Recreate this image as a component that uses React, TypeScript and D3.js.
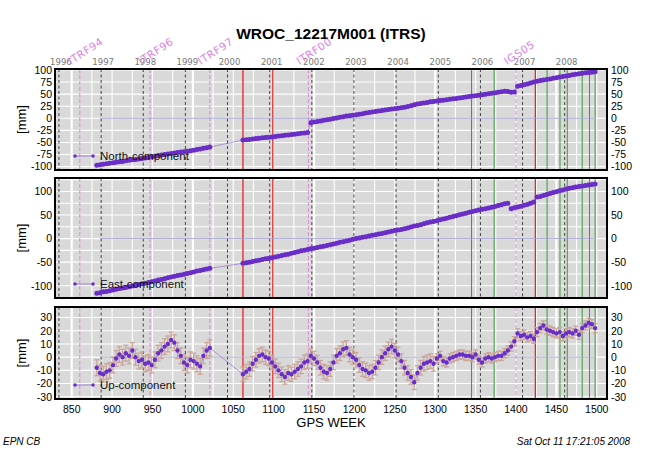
import React from "react";
import * as d3 from "d3";

// ---------- data ----------
const weeks = [
  881, 885, 889, 893, 897, 901, 905, 909, 913, 917,
  921, 925, 929, 933, 937, 941, 945, 949, 953, 957,
  961, 965, 969, 973, 977, 981, 985, 989, 993, 997,
  1001, 1005, 1009, 1013, 1017, 1021,
  1062, 1066, 1070, 1074, 1078, 1082, 1086, 1090, 1094, 1098,
  1102, 1106, 1110, 1114, 1118, 1122, 1126, 1130, 1134, 1138,
  1142, 1146, 1150, 1154, 1158, 1162, 1166, 1170, 1174, 1178,
  1182, 1186, 1190, 1194, 1198, 1202, 1206, 1210, 1214, 1218,
  1222, 1226, 1230, 1234, 1238, 1242, 1246, 1250, 1254, 1258,
  1262, 1266, 1270, 1274, 1278, 1282, 1286, 1290, 1294, 1298,
  1302, 1306, 1310, 1314, 1318, 1322, 1326, 1330, 1334, 1338,
  1342, 1346, 1350, 1354, 1358, 1362, 1366, 1370, 1374, 1378,
  1382, 1386, 1390, 1394, 1398, 1402, 1406, 1410, 1414, 1418,
  1422, 1426, 1430, 1434, 1438, 1442, 1446, 1450, 1454, 1458,
  1462, 1466, 1470, 1474, 1478, 1482, 1486, 1490, 1494, 1498,
];

const north = [
  -97, -96, -95, -94, -93, -92, -91, -90, -89.5, -88,
  -87, -86, -85.5, -84, -83, -82, -81, -79.5, -78.5, -77,
  -76, -75, -74, -73, -72, -71, -70, -69, -68, -67,
  -66, -64.5, -63.5, -62, -61, -59.5,
  -45, -44.5, -44, -43, -42, -41.5, -40.5, -40, -39, -38.5,
  -37.5, -36.5, -36, -35, -34.5, -33.5, -33, -32, -31, -30.5,
  -29.5, -9, -7.5, -6.5, -5.5, -4, -3, -2, -0.5, 0.5,
  2, 3, 4.5, 5.5, 6.5, 7.5, 8.5, 9.5, 11, 12,
  13, 14, 15, 16, 17, 18, 19, 20, 21, 22,
  23, 24.5, 26, 28, 29.5, 30.5, 31.5, 32.5, 34, 35,
  36, 37, 37.5, 38.5, 39.5, 40.5, 41, 42, 43, 44,
  45, 46, 46.5, 47.5, 48.5, 49.5, 51, 52, 53, 54,
  55, 56, 55.5, 54, 54.5, 66.5, 68, 69.5, 71, 73,
  75, 76.5, 78, 79, 80.5, 81.5, 83, 84, 85.5, 86.5,
  87.5, 88.5, 90, 91, 92, 93, 94, 95, 95.5, 96.5,
];

const east = [
  -116, -115, -113, -112, -110.5, -109, -107.5, -106, -105, -103.5,
  -102, -100.5, -99, -97.5, -96, -94.5, -93, -91.5, -90, -88,
  -86.5, -85, -83, -81.5, -80, -78.5, -77, -75.5, -74, -72.5,
  -71, -69, -67.5, -66, -64.5, -63,
  -52.5, -51, -50, -48.5, -47, -46, -44.5, -43, -42, -40.5,
  -39, -37.5, -36, -34.5, -33, -31, -29.5, -28, -26, -24.5,
  -23, -21.5, -20.5, -19, -17.5, -16, -14.5, -13, -11.5, -10,
  -8, -6.5, -5, -3.5, -1.5, 0, 1.5, 3, 4, 5.5,
  7, 8, 9.5, 11, 12.5, 14, 15.5, 17, 18, 19.5,
  21, 22.5, 24.5, 26.5, 28, 29.5, 31.5, 33.5, 35, 36.5,
  38, 40, 41.5, 43, 45, 47, 48.5, 50.5, 52, 54,
  56, 57.5, 59, 60.5, 62, 63.5, 65, 66.5, 68, 70,
  72, 74, 75, 63.5, 65.5, 67, 68.5, 70.5, 72.5, 75,
  77.5, 88, 89.5, 91.5, 93.5, 95.5, 97.5, 99.5, 101.5, 103,
  105, 106.5, 108, 109.5, 110.5, 111.5, 112.5, 113.5, 114.5, 116,
];

const up = [
  -8, -12, -13, -11, -10, -6, -1, 2, 0, 3,
  1, 5, 0, -3, -2, -5, -4, -6, -2, 3,
  5, 8, 10, 13, 11, 5, 1, -4, -6, -2,
  -3, -5, -7, 1, 5, 7,
  -13, -11, -9, -5, -2, 1, 2, 0, -1, -4,
  -7, -10, -13, -15, -12, -13, -11, -9, -7, -4,
  -3, 1, -1, -4, -8, -11, -12, -9, -4, 1,
  3, 6, 7, 2, 0, -2, -6, -9, -10, -12,
  -11, -8, -4, 0, 3, 6, 8, 5, 2, -3,
  -8, -12, -15, -19, -12, -8, -5, -4, -3, -5,
  -1, 1, -3, -4, -1, 0, 1, 2, 2, 1,
  1, 0, 2, -2, -4, -1, 0, -1, 0, 1,
  1, 3, 5, 8, 12, 18, 16, 17, 15, 16,
  14, 19, 22, 24, 21, 20, 19, 18, 19, 16,
  18, 19, 18, 20, 17, 22, 24, 26, 25, 22,
];

// error-bar half size of Up by period (start week, mm)
const upErrStart = [0, 1062, 1300, 1400];
const upErrSize = [6, 5.5, 3.5, 3.5];

const xTicks = [850, 900, 950, 1000, 1050, 1100, 1150, 1200, 1250, 1300, 1350, 1400, 1450, 1500];
const yearLabels = ["1996", "1997", "1998", "1999", "2000", "2001", "2002", "2003", "2004", "2005", "2006", "2007", "2008"];
const yearWeeks = [834.14, 886.43, 938.57, 990.71, 1042.86, 1095.14, 1147.29, 1199.43, 1251.57, 1303.86, 1356, 1408.14, 1460.29];
const frameNames = ["ITRF94", "ITRF96", "ITRF97", "ITRF00", "IGS05"];
const frameWeeks = [860, 947, 1021, 1143, 1400];
const redWeeks = [1062, 1099, 1424];
const greenWeeks = [1345, 1373, 1438.5, 1454.5, 1463.5, 1482, 1491, 1498];
const zeroSpan = [885, 1497];

const northTicks = [100, 75, 50, 25, 0, -25, -50, -75, -100];
const eastTicks = [100, 50, 0, -50, -100];
const upTicks = [30, 20, 10, 0, -10, -20, -30];

// ---------- layout ----------
const W = 647;
const H = 459;
const X0 = 55;
const X1 = 607;
const PURPLE = "#6a2ec8";
const FONT = "Liberation Sans, Arial, Helvetica, sans-serif";

const x = d3.scaleLinear().domain([829.3, 1512.7]).range([X0, X1]);

type Panel = {
  name: string;
  values: number[];
  top: number;
  bottom: number;
  domain: [number, number];
  ticks: number[];
  grid: number[];
  errors?: boolean;
};

const panels: Panel[] = [
  { name: "North-component", values: north, top: 69, bottom: 170, domain: [-107, 102], ticks: northTicks, grid: d3.range(-100, 101, 25) },
  { name: "East-component", values: east, top: 178, bottom: 298, domain: [-126, 128.5], ticks: eastTicks, grid: d3.range(-125, 126, 25) },
  { name: "Up-component", values: up, top: 307, bottom: 399, domain: [-31.7, 38], ticks: upTicks, grid: d3.range(-30, 31, 10), errors: true },
];

function errFor(w: number) {
  let e = upErrSize[0];
  upErrStart.forEach((s, i) => {
    if (w >= s) e = upErrSize[i];
  });
  return e;
}

// split the series into runs without data gaps / offsets (for the dense band)
function runs(values: number[]) {
  const out: number[][] = [];
  let cur: number[] = [];
  values.forEach((v, i) => {
    if (i > 0 && (weeks[i] - weeks[i - 1] > 10 || Math.abs(v - values[i - 1]) > 6)) {
      out.push(cur);
      cur = [];
    }
    cur.push(i);
  });
  out.push(cur);
  return out;
}

function PanelView({ p, idx }: { p: Panel; idx: number }) {
  const y = d3.scaleLinear().domain(p.domain).range([p.bottom, p.top]);
  const clipId = `clip${idx}`;
  const line = d3
    .line<number>()
    .x((_, i) => x(weeks[i]))
    .y((v) => y(v));
  const bandLine = d3
    .line<number>()
    .x((i) => x(weeks[i]))
    .y((i) => y(p.values[i]));
  const vGrid = d3.range(850, 1513, 25);
  const legY = p.bottom - 14;
  return (
    <g>
      <defs>
        <clipPath id={clipId}>
          <rect x={X0} y={p.top} width={X1 - X0} height={p.bottom - p.top} />
        </clipPath>
      </defs>
      <rect x={X0} y={p.top} width={X1 - X0} height={p.bottom - p.top} fill="#d9d9d9" />
      <g clipPath={`url(#${clipId})`}>
        {vGrid.map((w) => (
          <line key={"vg" + w} x1={x(w)} x2={x(w)} y1={p.top} y2={p.bottom} stroke="#ffffff" strokeWidth={(w - 850) % 150 === 0 ? 2.2 : 1.1} />
        ))}
        {p.grid.map((v) => (
          <line key={"hg" + v} x1={X0} x2={X1} y1={y(v)} y2={y(v)} stroke="#ffffff" strokeWidth={1.1} />
        ))}
        {yearWeeks.map((w) => (
          <line key={"yr" + w} x1={x(w)} x2={x(w)} y1={p.top} y2={p.bottom} stroke="#333" strokeWidth={0.9} strokeDasharray="3,2.5" />
        ))}
        {frameWeeks.map((w) => (
          <line key={"fr" + w} x1={x(w)} x2={x(w)} y1={p.top} y2={p.bottom} stroke="#d98ad9" strokeWidth={1} strokeDasharray="4,2" />
        ))}
        {greenWeeks.map((w) => (
          <line key={"gr" + w} x1={x(w)} x2={x(w)} y1={p.top} y2={p.bottom} stroke="#3a9a3a" strokeWidth={1} />
        ))}
        {redWeeks.map((w) => (
          <line key={"rd" + w} x1={x(w)} x2={x(w)} y1={p.top} y2={p.bottom} stroke="#e0282a" strokeWidth={1.3} />
        ))}
        <line x1={x(zeroSpan[0])} x2={x(zeroSpan[1])} y1={y(0)} y2={y(0)} stroke="#9a98c8" strokeWidth={0.8} />
        {p.errors &&
          p.values.map((v, i) => {
            const e = errFor(weeks[i]);
            const cx = x(weeks[i]);
            return (
              <g key={"e" + i} stroke="#c9a496" strokeWidth={1.3} opacity={0.95}>
                <line x1={cx} x2={cx} y1={y(v - e)} y2={y(v + e)} />
                <line x1={cx - 2.5} x2={cx + 2.5} y1={y(v + e)} y2={y(v + e)} />
                <line x1={cx - 2.5} x2={cx + 2.5} y1={y(v - e)} y2={y(v - e)} />
              </g>
            );
          })}
        <path d={line(p.values) || ""} fill="none" stroke={PURPLE} strokeWidth={0.7} opacity={0.6} />
        {!p.errors &&
          runs(p.values).map((r, k) => (
            <path key={"b" + k} d={bandLine(r) || ""} fill="none" stroke={PURPLE} strokeWidth={3.6} strokeLinejoin="round" />
          ))}
        {p.values.map((v, i) => (
          <circle key={"c" + i} cx={x(weeks[i])} cy={y(v)} r={p.errors ? 2.2 : 2.5} fill={PURPLE} />
        ))}
      </g>
      {/* legend */}
      <line x1={75} x2={93} y1={legY} y2={legY} stroke={PURPLE} strokeWidth={0.7} opacity={0.7} />
      <circle cx={75} cy={legY} r={1.8} fill={PURPLE} />
      <circle cx={93} cy={legY} r={1.8} fill={PURPLE} />
      <text x={100} y={legY + 4} fontSize={11.5} fontFamily={FONT} fill="#111">
        {p.name}
      </text>
      {/* frame */}
      <rect x={X0} y={p.top} width={X1 - X0} height={p.bottom - p.top} fill="none" stroke="#000" strokeWidth={2} />
      {/* tick labels */}
      {p.ticks.map((t) => (
        <g key={"t" + t}>
          <text x={52} y={y(t) + 3.8} textAnchor="end" fontSize={10.5} fontFamily={FONT} fill="#000">
            {t}
          </text>
          <text x={611} y={y(t) + 3.8} textAnchor="start" fontSize={10.5} fontFamily={FONT} fill="#000">
            {t}
          </text>
        </g>
      ))}
      <text
        transform={`translate(26,${(p.top + p.bottom) / 2}) rotate(-90)`}
        textAnchor="middle"
        fontSize={13}
        fontFamily={FONT}
        fill="#000"
      >
        [mm]
      </text>
    </g>
  );
}

export default function App() {
  return (
    <svg width={W} height={H} style={{ position: "absolute", left: 0, top: 0, background: "#fff" }}>
      <rect x={0} y={0} width={W} height={H} fill="#fff" />
      <text x={331} y={38.5} textAnchor="middle" fontSize={15.5} fontWeight="bold" fontFamily={FONT} fill="#000">
        WROC_12217M001 (ITRS)
      </text>
      {yearLabels.map((lab, i) => (
        <text key={lab} x={x(yearWeeks[i]) + 2} y={65} textAnchor="middle" fontSize={8.5} fontFamily="DejaVu Sans, sans-serif" fill="#777">
          {lab}
        </text>
      ))}
      {frameNames.map((nm, i) => (
        <text
          key={nm}
          transform={`translate(${x(frameWeeks[i]) - 9},65) rotate(-33)`}
          fontSize={10.5}
          letterSpacing={0.6}
          fontFamily="DejaVu Sans, sans-serif"
          fill="#e07de6"
        >
          {nm}
        </text>
      ))}
      {panels.map((p, i) => (
        <PanelView key={p.name} p={p} idx={i} />
      ))}
      {xTicks.map((t) => (
        <text key={"x" + t} x={x(t)} y={413} textAnchor="middle" fontSize={10.5} fontFamily={FONT} fill="#000">
          {t}
        </text>
      ))}
      <text x={331} y={426.5} textAnchor="middle" fontSize={13} fontFamily={FONT} fill="#000">
        GPS WEEK
      </text>
      <text x={3} y={445} fontSize={10} fontStyle="italic" fontFamily={FONT} fill="#000">
        EPN CB
      </text>
      <text x={630} y={445} textAnchor="end" fontSize={10} fontStyle="italic" fontFamily={FONT} fill="#000">
        Sat Oct 11 17:21:05 2008
      </text>
    </svg>
  );
}
